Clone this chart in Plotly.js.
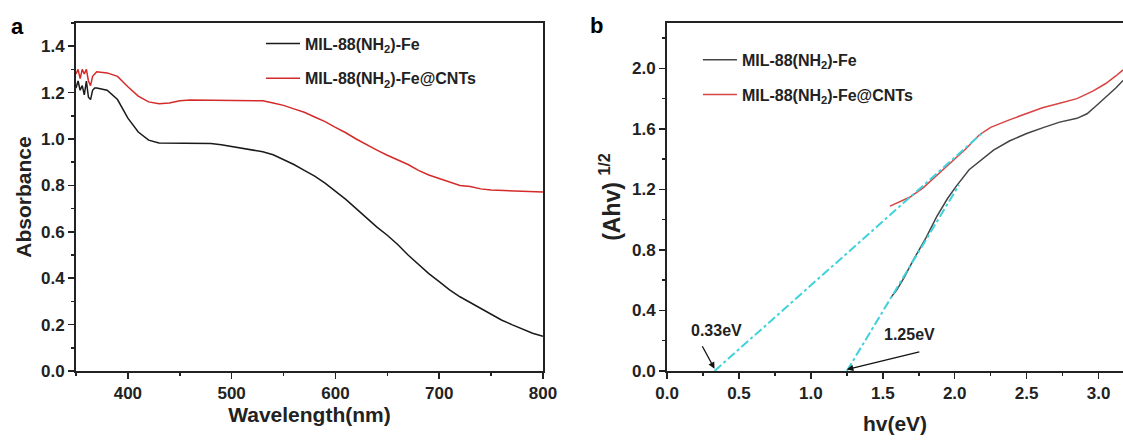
<!DOCTYPE html>
<html>
<head>
<meta charset="utf-8">
<script src="https://cdn.plot.ly/plotly-3.0.1.min.js"></script>
<style>html,body{margin:0;padding:0;background:#fff;}#chart{width:1123px;height:440px;}</style>
</head>
<body>
<div id="chart"></div>
<script>
// ---- Panel a: UV-vis absorbance ----
const wavelength = [350,352,354,356,358,360,362,364,366,368,370,380,390,400,410,420,430,440,450,460,470,480,490,500,510,520,530,540,550,560,570,580,590,600,610,620,630,640,650,660,670,680,690,700,710,720,730,740,750,760,770,780,790,800];
const absFe = [1.22,1.25,1.21,1.23,1.19,1.25,1.18,1.17,1.21,1.22,1.22,1.21,1.17,1.09,1.03,0.995,0.983,0.982,0.982,0.982,0.982,0.981,0.975,0.968,0.962,0.955,0.945,0.932,0.912,0.89,0.865,0.84,0.81,0.775,0.74,0.70,0.66,0.62,0.585,0.545,0.50,0.46,0.42,0.385,0.35,0.32,0.295,0.27,0.245,0.22,0.20,0.18,0.163,0.15];
const absFeCNT = [1.28,1.30,1.26,1.30,1.28,1.30,1.25,1.23,1.27,1.28,1.29,1.285,1.27,1.225,1.185,1.16,1.152,1.155,1.165,1.168,1.168,1.168,1.168,1.168,1.167,1.166,1.165,1.155,1.145,1.13,1.115,1.095,1.075,1.05,1.027,1.00,0.975,0.952,0.93,0.91,0.89,0.865,0.845,0.83,0.815,0.80,0.795,0.785,0.78,0.778,0.775,0.775,0.773,0.772];

// ---- Panel b: Tauc plot ----
const hvFe = [1.56,1.60,1.65,1.71,1.80,1.875,1.95,2.01,2.10,2.19,2.27,2.38,2.50,2.62,2.73,2.85,2.92,2.98,3.05,3.12,3.17];
const taucFe = [0.49,0.54,0.62,0.73,0.88,1.02,1.14,1.22,1.33,1.40,1.46,1.52,1.57,1.61,1.645,1.67,1.70,1.75,1.81,1.87,1.92];
const hvFeCNT = [1.55,1.60,1.69,1.78,1.85,1.92,2.00,2.08,2.17,2.25,2.38,2.50,2.61,2.73,2.85,2.96,3.05,3.12,3.17];
const taucFeCNT = [1.09,1.11,1.15,1.21,1.27,1.33,1.40,1.47,1.56,1.61,1.66,1.70,1.74,1.77,1.80,1.85,1.90,1.95,1.99];
const fitCNT_x = [0.33, 2.20];
const fitCNT_y = [0, 1.58];
const fitFe_x = [1.25, 2.03];
const fitFe_y = [0, 1.23];
const gapLabels = ['0.33eV', '1.25eV'];
const gapValues = [0.33, 1.25];

const seriesNames = ['MIL-88(NH<sub>2</sub>)-Fe', 'MIL-88(NH<sub>2</sub>)-Fe@CNTs'];

const FONT = 'Liberation Sans, Arial, sans-serif';
const AX = '#222';
const cyan = '#3fd2dc';

const traces = [
  {x: wavelength, y: absFe, type: 'scatter', mode: 'lines', name: seriesNames[0],
   line: {color: '#1a1a1a', width: 1.5}, xaxis: 'x', yaxis: 'y', legend: 'legend', legendgroup: 'a1'},
  {x: wavelength, y: absFeCNT, type: 'scatter', mode: 'lines', name: seriesNames[1],
   line: {color: '#d42a2a', width: 1.5}, xaxis: 'x', yaxis: 'y', legend: 'legend', legendgroup: 'a2'},
  {x: hvFe, y: taucFe, type: 'scatter', mode: 'lines', name: seriesNames[0],
   line: {color: '#444444', width: 1.5}, xaxis: 'x2', yaxis: 'y2', legend: 'legend2', legendgroup: 'b1'},
  {x: hvFeCNT, y: taucFeCNT, type: 'scatter', mode: 'lines', name: seriesNames[1],
   line: {color: '#d84343', width: 1.5}, xaxis: 'x2', yaxis: 'y2', legend: 'legend2', legendgroup: 'b2'},
  {x: fitCNT_x, y: fitCNT_y, type: 'scatter', mode: 'lines', showlegend: false,
   line: {color: cyan, width: 2, dash: 'dashdot'}, xaxis: 'x2', yaxis: 'y2'},
  {x: fitFe_x, y: fitFe_y, type: 'scatter', mode: 'lines', showlegend: false,
   line: {color: cyan, width: 2, dash: 'dashdot'}, xaxis: 'x2', yaxis: 'y2'}
];

const tickFont = {family: FONT, size: 17, color: AX, weight: 'bold'};
const titleFont = {family: FONT, size: 21, color: AX, weight: 'bold'};

function axisBase(extra) {
  return Object.assign({
    showline: true, linewidth: 2, linecolor: AX, showgrid: false, zeroline: false,
    ticks: 'outside', ticklen: 6, tickwidth: 1.5, tickcolor: AX,
    tickfont: tickFont, automargin: false
  }, extra);
}

const legendFont = {family: FONT, size: 16, color: AX, weight: 'bold'};

const layout = {
  width: 1123, height: 440,
  margin: {l: 76, r: 0, t: 23, b: 69},
  paper_bgcolor: '#fff', plot_bgcolor: '#fff',
  font: {family: FONT, color: AX, weight: 'bold'},
  xaxis: axisBase({domain: [0, 0.446], range: [350, 800], dtick: 100, tick0: 0,
    mirror: true, anchor: 'y',
    minor: {dtick: 50, ticklen: 3, tickcolor: AX, ticks: 'outside'},
    title: {text: 'Wavelength(nm)', font: titleFont, standoff: 4}}),
  yaxis: axisBase({domain: [0, 1], range: [0, 1.5], dtick: 0.2, tick0: 0, tickformat: '.1f',
    mirror: true, anchor: 'x',
    minor: {dtick: 0.1, ticklen: 3, tickcolor: AX, ticks: 'outside'},
    title: {text: 'Absorbance', font: titleFont, standoff: 4}}),
  xaxis2: axisBase({domain: [0.5645, 1], range: [0, 3.17], dtick: 0.5, tick0: 0, tickformat: '.1f',
    mirror: true, anchor: 'y2',
    minor: {dtick: 0.25, ticklen: 3, tickcolor: AX, ticks: 'outside'},
    title: {text: 'hv(eV)', font: titleFont, standoff: 14}}),
  yaxis2: axisBase({domain: [0, 1], range: [0, 2.3], dtick: 0.4, tick0: 0, tickformat: '.1f',
    mirror: false, anchor: 'x2',
    minor: {dtick: 0.2, ticklen: 3, tickcolor: AX, ticks: 'outside'},
    title: {text: '(Ahv)&nbsp;<sup>1/2</sup>', font: {family: FONT, size: 23, color: AX, weight: 'bold'}, standoff: 5}}),
  legend: {x: 0.1767, y: 0.99, xanchor: 'left', yanchor: 'top', bgcolor: 'rgba(0,0,0,0)',
    font: legendFont, traceorder: 'grouped', tracegroupgap: 11, itemwidth: 34},
  legend2: {x: 0.594, y: 0.943, xanchor: 'left', yanchor: 'top', bgcolor: 'rgba(0,0,0,0)',
    font: legendFont, traceorder: 'grouped', tracegroupgap: 11, itemwidth: 34},
  annotations: [
    {xref: 'paper', yref: 'paper', x: -0.0554, y: 0.991, xanchor: 'center', yanchor: 'middle',
     text: 'a', showarrow: false, font: {family: FONT, size: 22, color: '#000', weight: 'bold'}},
    {xref: 'paper', yref: 'paper', x: 0.4976, y: 0.994, xanchor: 'center', yanchor: 'middle',
     text: 'b', showarrow: false, font: {family: FONT, size: 22, color: '#000', weight: 'bold'}},
    {xref: 'x2', yref: 'y2', x: 0.347, y: 0.271, text: gapLabels[0], showarrow: false,
     font: {family: FONT, size: 16, color: AX, weight: 'bold'}},
    {xref: 'x2', yref: 'y2', x: 1.6875, y: 0.238, text: gapLabels[1], showarrow: false,
     font: {family: FONT, size: 16, color: AX, weight: 'bold'}},
    {xref: 'x2', yref: 'y2', x: gapValues[0], y: 0.015, text: '', showarrow: true,
     ax: -13, ay: -24, arrowhead: 2, arrowsize: 1, arrowwidth: 1.3, arrowcolor: '#111'},
    {xref: 'x2', yref: 'y2', x: gapValues[1], y: 0.01, text: '', showarrow: true,
     ax: 74, ay: -18, arrowhead: 2, arrowsize: 1, arrowwidth: 1.3, arrowcolor: '#111'}
  ],
  showlegend: true
};

Plotly.newPlot('chart', traces, layout, {staticPlot: true, displayModeBar: false});
</script>
</body>
</html>
